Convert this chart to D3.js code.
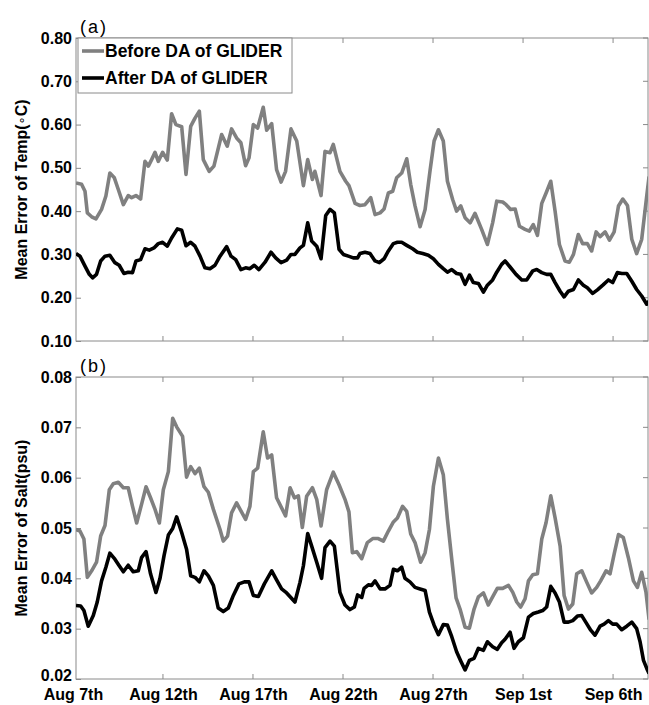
<!DOCTYPE html>
<html><head><meta charset="utf-8">
<script src="https://cdn.jsdelivr.net/npm/d3@7"></script>
<style>
body{margin:0;background:#fff;}
svg text{font-family:"Liberation Sans",Arial,Helvetica,sans-serif;}
</style></head>
<body><svg id="c" width="649" height="705"></svg>
<script>
// days since Aug 7th 00:00
const tickDays = [0,5,10,15,20,25,30];
const tickLabels = ["Aug 7th","Aug 12th","Aug 17th","Aug 22th","Aug 27th","Sep 1st","Sep 6th"];

const tempBeforeDays = [0.17,0.48,0.67,0.80,1.04,1.28,1.59,1.83,2.05,2.30,2.52,2.80,3.07,3.26,3.50,3.76,4.00,4.19,4.37,4.56,4.74,4.98,5.24,5.48,5.72,6.04,6.28,6.54,6.78,7.02,7.24,7.57,7.83,
 8.26,8.57,8.81,9.09,9.33,9.59,9.78,10.02,10.26,10.57,10.76,11.04,11.31,11.56,11.81,12.11,12.43,12.80,13.04,13.30,13.44,13.78,14.00,14.28,14.46,14.83,15.15,15.33,15.67,15.94,
 16.22,16.54,16.78,17.06,17.28,17.52,17.76,17.98,18.26,18.54,18.76,19.00,19.28,19.56,19.83,20.06,20.30,20.57,20.80,21.09,21.31,21.54,21.78,22.06,22.33,22.70,23.02,23.31,23.54,23.87,
 24.06,24.31,24.56,24.80,25.11,25.35,25.57,25.80,26.04,26.28,26.54,26.78,27.02,27.33,27.57,27.80,28.07,28.31,28.57,28.81,29.06,29.28,29.56,29.80,30.06,30.30,30.54,30.80,31.04,31.31,31.59,31.87,32.0];
const tempBefore = [0.465,0.462,0.446,0.396,0.387,0.382,0.404,0.435,0.488,0.477,0.45,0.415,0.436,0.431,0.436,0.428,0.515,0.504,0.519,0.536,0.515,0.536,0.518,0.625,0.60,0.595,0.485,0.596,0.615,0.631,0.519,0.492,0.504,
 0.577,0.55,0.59,0.569,0.558,0.505,0.523,0.60,0.592,0.640,0.587,0.602,0.496,0.467,0.492,0.59,0.562,0.459,0.519,0.473,0.492,0.436,0.538,0.535,0.554,0.492,0.469,0.459,0.418,0.413,
 0.415,0.431,0.392,0.396,0.405,0.442,0.446,0.477,0.488,0.521,0.462,0.412,0.364,0.404,0.492,0.562,0.588,0.562,0.469,0.427,0.40,0.412,0.385,0.373,0.395,0.358,0.323,0.373,0.423,0.421,
 0.415,0.404,0.405,0.365,0.358,0.354,0.369,0.344,0.418,0.442,0.469,0.40,0.323,0.285,0.282,0.30,0.346,0.325,0.325,0.308,0.352,0.341,0.352,0.333,0.352,0.412,0.428,0.413,0.335,0.302,0.335,0.435,0.48];

const tempAfterDays = [0.17,0.39,0.67,0.91,1.09,1.31,1.54,1.78,2.05,2.33,2.57,2.83,3.07,3.31,3.50,3.76,4.00,4.24,4.50,4.74,4.98,5.24,5.48,5.80,6.04,6.28,6.54,6.78,7.06,7.33,7.61,7.89,
 8.17,8.54,8.78,9.04,9.33,9.59,9.83,10.07,10.33,10.67,11.00,11.26,11.56,11.87,12.11,12.33,12.61,12.80,13.04,13.26,13.54,13.78,14.04,14.28,14.52,14.78,15.02,15.30,15.57,15.81,
 15.94,16.22,16.50,16.78,17.02,17.28,17.52,17.80,18.02,18.26,18.54,18.87,19.13,19.43,19.74,20.02,20.30,20.57,20.80,21.04,21.31,21.54,21.78,22.02,22.24,22.52,22.80,23.02,23.31,23.54,23.81,
 24.00,24.28,24.61,24.93,25.20,25.54,25.76,26.04,26.31,26.54,26.78,27.06,27.28,27.52,27.80,28.07,28.35,28.57,28.87,29.13,29.43,29.74,29.98,30.24,30.48,30.76,31.04,31.31,31.59,31.87,32.0];
const tempAfter = [0.302,0.296,0.273,0.254,0.246,0.254,0.285,0.296,0.298,0.281,0.275,0.256,0.259,0.258,0.285,0.288,0.313,0.31,0.315,0.325,0.328,0.319,0.338,0.359,0.356,0.32,0.328,0.319,0.296,0.269,0.267,0.275,
 0.296,0.318,0.296,0.288,0.265,0.269,0.267,0.275,0.265,0.282,0.305,0.292,0.281,0.287,0.30,0.30,0.315,0.321,0.373,0.331,0.319,0.29,0.39,0.404,0.396,0.312,0.30,0.296,0.292,0.292,
 0.302,0.305,0.302,0.285,0.281,0.29,0.308,0.325,0.328,0.328,0.321,0.313,0.305,0.302,0.298,0.29,0.277,0.267,0.259,0.265,0.256,0.254,0.231,0.252,0.235,0.233,0.213,0.229,0.241,0.259,0.277,
 0.285,0.271,0.254,0.241,0.241,0.262,0.265,0.258,0.254,0.254,0.235,0.215,0.202,0.215,0.219,0.241,0.229,0.223,0.21,0.218,0.229,0.241,0.235,0.258,0.256,0.256,0.238,0.219,0.204,0.185,0.192];

const saltBeforeDays = [0.17,0.39,0.61,0.80,1.04,1.31,1.54,1.78,2.02,2.24,2.52,2.80,3.07,3.31,3.54,3.81,4.06,4.31,4.56,4.80,5.02,5.30,5.54,5.76,6.09,6.31,6.54,6.78,7.02,7.28,7.52,7.80,
 8.17,8.35,8.59,8.81,9.09,9.33,9.59,9.83,10.02,10.26,10.57,10.81,11.04,11.31,11.59,11.81,12.06,12.30,12.52,12.74,12.98,13.30,13.54,13.78,14.09,14.46,14.78,15.11,15.33,15.52,15.76,16.04,
 16.35,16.65,16.96,17.24,17.52,17.80,18.02,18.31,18.54,18.76,19.00,19.31,19.56,19.80,20.02,20.30,20.57,20.80,21.04,21.28,21.50,21.78,22.02,22.28,22.52,22.80,23.07,23.31,23.57,23.87,
 24.19,24.43,24.65,24.87,25.11,25.30,25.54,25.80,26.04,26.28,26.54,26.78,27.06,27.28,27.52,27.76,27.98,28.26,28.54,28.81,29.09,29.31,29.61,29.83,30.06,30.30,30.57,30.85,31.13,31.35,31.59,31.83,32.0];
const saltBefore = [0.0497,0.0494,0.0478,0.0402,0.0415,0.0432,0.0484,0.0505,0.0576,0.0588,0.0591,0.058,0.058,0.0543,0.051,0.0547,0.0582,0.056,0.0537,0.051,0.0576,0.0612,0.0718,0.0701,0.0682,0.0601,0.0622,0.0608,0.0619,0.0582,0.0571,0.0537,
 0.0497,0.0474,0.0484,0.053,0.055,0.0534,0.0517,0.0543,0.0612,0.0619,0.0691,0.0639,0.0645,0.056,0.054,0.0524,0.058,0.056,0.0564,0.0501,0.0563,0.058,0.0557,0.0504,0.0576,0.0611,0.0586,0.0557,0.0532,0.0451,0.0453,0.0439,
 0.0471,0.0479,0.0479,0.0474,0.0494,0.0512,0.052,0.0543,0.0533,0.0488,0.0471,0.0432,0.0451,0.0497,0.0583,0.0639,0.0606,0.0517,0.0438,0.0361,0.0339,0.0303,0.0301,0.0339,0.0363,0.0371,0.0347,0.0363,0.038,0.038,
 0.0386,0.0372,0.0353,0.0343,0.0359,0.0395,0.0407,0.0409,0.0478,0.0511,0.0564,0.052,0.0464,0.0366,0.0339,0.0349,0.0409,0.0415,0.0392,0.0371,0.0382,0.0395,0.0415,0.0409,0.0448,0.0487,0.0481,0.0441,0.0395,0.0382,0.0412,0.0372,0.0318];

const saltAfterDays = [0.17,0.43,0.61,0.85,1.13,1.35,1.59,1.83,2.05,2.33,2.57,2.80,3.07,3.35,3.63,3.81,4.06,4.31,4.61,4.83,5.06,5.30,5.54,5.76,6.04,6.31,6.54,6.78,7.02,7.28,7.52,7.80,8.07,
 8.35,8.63,8.91,9.22,9.52,9.78,10.02,10.30,10.63,11.04,11.31,11.59,11.87,12.33,12.61,12.80,13.04,13.26,13.54,13.81,14.00,14.28,14.52,14.83,15.11,15.39,15.63,15.81,16.04,
 16.17,16.41,16.59,16.78,17.06,17.33,17.61,17.80,18.02,18.26,18.44,18.72,19.00,19.28,19.56,19.80,20.06,20.30,20.57,20.80,21.04,21.31,21.54,21.78,22.02,22.28,22.52,22.80,23.02,23.31,23.57,23.81,
 24.00,24.28,24.50,24.74,25.02,25.30,25.57,25.85,26.09,26.31,26.54,26.78,27.02,27.28,27.52,27.76,28.02,28.26,28.50,28.76,29.00,29.28,29.50,29.74,29.98,30.20,30.48,30.76,31.04,31.31,31.50,31.69,31.87,32.0];
const saltAfter = [0.0346,0.0345,0.0336,0.0305,0.0326,0.0353,0.0395,0.0422,0.045,0.0438,0.0425,0.0413,0.0426,0.0413,0.0415,0.0441,0.0453,0.0409,0.0372,0.0399,0.0445,0.0486,0.0499,0.0522,0.0491,0.0458,0.0405,0.0402,0.0393,0.0415,0.0405,0.0386,0.0341,
 0.0334,0.0341,0.0366,0.0389,0.0393,0.0393,0.0366,0.0364,0.0389,0.0415,0.0397,0.0379,0.0371,0.0353,0.0392,0.0425,0.0489,0.0464,0.0432,0.04,0.0461,0.0474,0.0464,0.0372,0.0347,0.0338,0.0343,0.0367,0.0362,
 0.038,0.0387,0.0386,0.0395,0.0379,0.0379,0.0386,0.0418,0.0415,0.0422,0.04,0.0393,0.0382,0.0379,0.0376,0.0333,0.0307,0.0288,0.0308,0.0307,0.0284,0.0254,0.0236,0.0218,0.0237,0.0241,0.0261,0.0257,0.0274,0.0264,0.0259,0.0272,
 0.0279,0.0293,0.0261,0.0274,0.0282,0.0323,0.033,0.0333,0.0336,0.0343,0.0384,0.0371,0.0353,0.0313,0.0313,0.0316,0.0325,0.0326,0.0312,0.0297,0.0287,0.0305,0.0309,0.0316,0.0309,0.0309,0.0298,0.0305,0.0313,0.03,0.0274,0.0237,0.0221,0.0211];

const tempTicks = [0.10,0.20,0.30,0.40,0.50,0.60,0.70,0.80];
const saltTicks = [0.02,0.03,0.04,0.05,0.06,0.07,0.08];
const legendLabels = ["Before DA of GLIDER","After DA of GLIDER"];
const seriesColors = ["#808080","#000000"];

const svg = d3.select("#c");
const L = 76, R = 648;
const x = d3.scaleLinear().domain([0.17, 31.94]).range([L, R]);
const axisColor = "#8a8a8a";
const fontTick = "bold 16px 'Liberation Sans', Arial, sans-serif";

function panel(top, bottom, domain, ticks, fmt, ylabel, tag, series, id, showX) {
  const y = d3.scaleLinear().domain(domain).range([bottom, top]);
  const g = svg.append("g");
  svg.append("clipPath").attr("id", id).append("rect")
    .attr("x", L).attr("y", top).attr("width", R - L).attr("height", bottom - top);
  g.append("rect").attr("x", L).attr("y", top).attr("width", R - L).attr("height", bottom - top)
    .attr("fill", "none").attr("stroke", axisColor).attr("stroke-width", 1);
  const xt = tickDays.filter(d => d >= x.domain()[0] && d <= x.domain()[1]);
  xt.forEach(d => {
    g.append("line").attr("x1", x(d)).attr("x2", x(d)).attr("y1", bottom).attr("y2", bottom - 5).attr("stroke", axisColor);
    g.append("line").attr("x1", x(d)).attr("x2", x(d)).attr("y1", top).attr("y2", top + 5).attr("stroke", axisColor);
  });
  const ay = d3.axisLeft(y).tickValues(ticks).tickFormat(d3.format(fmt)).tickSizeInner(-5).tickSizeOuter(0).tickPadding(4);
  const ga = g.append("g").attr("transform", `translate(${L},0)`).call(ay);
  ga.select(".domain").remove();
  ga.selectAll("line").attr("stroke", axisColor);
  ga.selectAll("text").style("font", fontTick).attr("fill", "#000");
  if (showX) ga.selectAll("text").filter(d => d === domain[0]).attr("dy", "0.1em");
  ticks.forEach(v => {
    g.append("line").attr("x1", R).attr("x2", R - 5).attr("y1", y(v)).attr("y2", y(v)).attr("stroke", axisColor);
  });
  if (showX) {
    const ax = d3.axisBottom(x).tickValues(tickDays).tickFormat((d, i) => tickLabels[i]).tickSize(0).tickPadding(10);
    const gx = g.append("g").attr("transform", `translate(0,${bottom})`).call(ax);
    gx.select(".domain").remove();
    gx.selectAll("text").style("font", fontTick).attr("fill", "#000");
  }
  const yl = g.append("text").attr("transform", `translate(27,${(top + bottom) / 2}) rotate(-90)`)
    .attr("text-anchor", "middle").style("font", "bold 16px 'Liberation Sans', Arial, sans-serif").attr("fill", "#000");
  if (ylabel[1]) {
    yl.append("tspan").text(ylabel[0]);
    yl.append("tspan").style("font-weight", "normal").style("font-family", "'DejaVu Sans'").style("font-size", "13px").attr("dy", -1).text(ylabel[1]);
    yl.append("tspan").attr("dy", 1).text(ylabel[2]);
  } else yl.text(ylabel[0]);
  g.append("text").attr("x", 80).attr("y", top - 5).style("font", "18px 'Liberation Sans', Arial, sans-serif")
    .attr("letter-spacing", "2px").attr("fill", "#000").text(tag);
  const line = d3.line().x(d => x(d[0])).y(d => y(d[1]));
  const lg = g.append("g").attr("clip-path", `url(#${id})`);
  series.forEach((s, i) => {
    lg.append("path").datum(s.days.map((d, k) => [d, s.vals[k]]))
      .attr("d", line).attr("fill", "none").attr("stroke", seriesColors[i])
      .attr("stroke-width", 3.6).attr("stroke-linejoin", "round");
  });
  return g;
}

panel(38, 341, [0.10, 0.80], tempTicks, ".2f", ["Mean Error of Temp(", "∘", "C)"], "(a)",
  [{days: tempBeforeDays, vals: tempBefore}, {days: tempAfterDays, vals: tempAfter}], "clipA", false);
panel(377, 679, [0.02, 0.08], saltTicks, ".2f", ["Mean Error of Salt(psu)"], "(b)",
  [{days: saltBeforeDays, vals: saltBefore}, {days: saltAfterDays, vals: saltAfter}], "clipB", true);

const lgd = svg.append("g");
lgd.append("rect").attr("x", 78).attr("y", 38).attr("width", 214).attr("height", 55)
  .attr("fill", "#fff").attr("stroke", axisColor).attr("stroke-width", 1);
legendLabels.forEach((t, i) => {
  const yy = 51 + i * 27;
  lgd.append("line").attr("x1", 82).attr("x2", 104).attr("y1", yy).attr("y2", yy)
    .attr("stroke", seriesColors[i]).attr("stroke-width", 3.6);
  lgd.append("text").attr("x", 105).attr("y", yy + 6).style("font", "bold 17.5px 'Liberation Sans', Arial, sans-serif")
    .attr("fill", "#000").text(t);
});
</script></body></html>
